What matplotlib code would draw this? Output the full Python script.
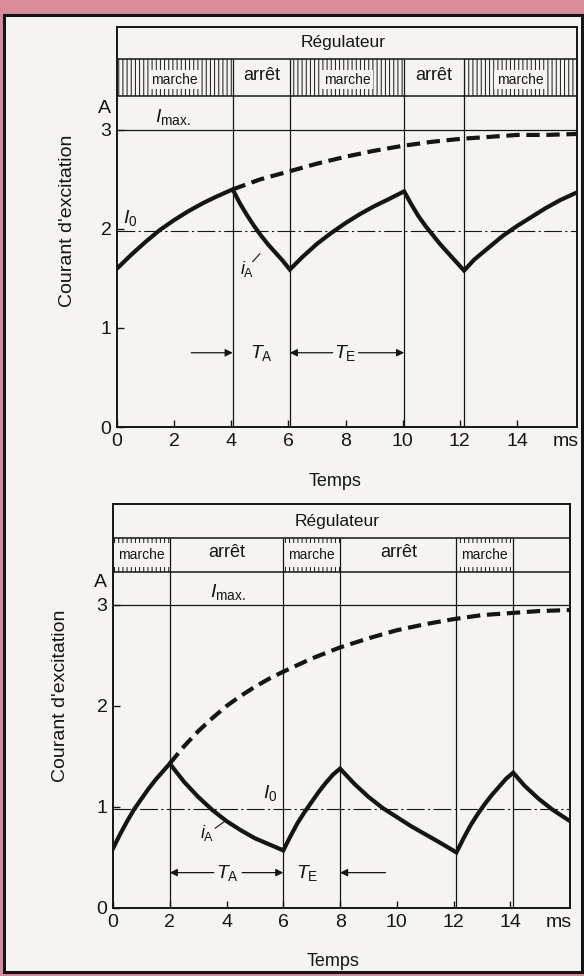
"""Excitation current of a generator under an on/off regulator (two duty cycles)."""

import matplotlib

matplotlib.use("Agg")
import matplotlib.pyplot as plt
from matplotlib.patches import Rectangle

PINK = "#d98a9b"
PAPER = "#f6f4f1"
INK = "#151515"

plt.rcParams.update({
    "font.family": "Liberation Sans",
    "mathtext.fontset": "custom",
    "mathtext.rm": "Liberation Sans",
    "mathtext.it": "Liberation Sans:italic",
    "hatch.linewidth": 0.7,
})

I_MAX = 3.0
X_END = 16.1
X_TICKS = [0, 2, 4, 6, 8, 10, 12, 14]
Y_TICKS = [0, 1, 2, 3]

# --- upper chart: long "marche" phases --------------------------------------
TOP_SWITCH = [4.05, 6.05, 10.05, 12.15]
TOP_STATES = ["marche", "arrêt", "marche", "arrêt", "marche"]
TOP_I0 = 1.98
TOP_T = [0, 0.5, 1, 1.5, 2, 2.5, 3, 3.5, 4.05,
         4.3, 4.55, 4.8, 5.05, 5.3, 5.55, 5.8, 6.05,
         6.5, 7, 7.5, 8, 8.5, 9, 9.5, 10.05,
         10.3, 10.55, 10.8, 11.05, 11.3, 11.55, 11.8, 12.15,
         12.5, 13, 13.5, 14, 14.5, 15, 15.5, 16.1]
TOP_I = [1.60, 1.74, 1.87, 1.99, 2.09, 2.18, 2.26, 2.33, 2.40,
         2.26, 2.14, 2.03, 1.93, 1.84, 1.76, 1.68, 1.59,
         1.72, 1.85, 1.96, 2.06, 2.15, 2.23, 2.30, 2.38,
         2.25, 2.13, 2.03, 1.94, 1.85, 1.77, 1.69, 1.58,
         1.69, 1.81, 1.93, 2.03, 2.12, 2.21, 2.29, 2.37]
TOP_T_FREE = [4.05, 5, 6, 7, 8, 9, 10, 11, 12, 13, 14, 15, 16.1]
TOP_I_FREE = [2.40, 2.50, 2.58, 2.66, 2.73, 2.79, 2.84, 2.88, 2.91, 2.93, 2.95, 2.95, 2.96]

# --- lower chart: short "marche" phases -------------------------------------
BOT_SWITCH = [2.0, 6.0, 8.0, 12.1, 14.1]
BOT_STATES = ["marche", "arrêt", "marche", "arrêt", "marche", ""]
BOT_I0 = 0.98
BOT_T = [0, 0.25, 0.5, 0.75, 1, 1.25, 1.5, 1.75, 2.0,
         2.5, 3, 3.5, 4, 4.5, 5, 5.5, 6.0,
         6.25, 6.5, 6.75, 7, 7.25, 7.5, 7.75, 8.0,
         8.5, 9, 9.5, 10, 10.5, 11, 11.5, 12.1,
         12.35, 12.6, 12.85, 13.1, 13.35, 13.6, 13.85, 14.1,
         14.5, 15, 15.5, 16.1]
BOT_I = [0.59, 0.73, 0.86, 0.98, 1.08, 1.18, 1.27, 1.35, 1.43,
         1.25, 1.10, 0.97, 0.86, 0.77, 0.69, 0.63, 0.57,
         0.71, 0.84, 0.95, 1.05, 1.15, 1.24, 1.32, 1.38,
         1.23, 1.10, 0.99, 0.90, 0.81, 0.73, 0.65, 0.55,
         0.69, 0.82, 0.93, 1.03, 1.12, 1.20, 1.28, 1.34,
         1.21, 1.08, 0.97, 0.86]
BOT_T_FREE = [2, 2.5, 3, 3.5, 4, 4.5, 5, 5.5, 6, 7, 8, 9, 10, 11, 12, 13, 14, 15, 16.1]
BOT_I_FREE = [1.43, 1.60, 1.75, 1.88, 2.00, 2.10, 2.19, 2.27, 2.34, 2.47, 2.58,
              2.67, 2.75, 2.81, 2.86, 2.90, 2.92, 2.94, 2.95]


def arrow(ax, x_from, x_to, y):
    ax.annotate("", xy=(x_to, y), xytext=(x_from, y),
                arrowprops=dict(arrowstyle="-|>", color=INK, lw=0.9,
                                mutation_scale=11, shrinkA=0, shrinkB=0))


def draw_chart(ax, t, i, t_free, i_free, switches, states, i0, rows, full_hatch):
    row_bot, row_top, top = rows
    ax.set_xlim(0, X_END)
    ax.set_ylim(0, top)
    ax.patch.set_visible(False)
    for sp in ax.spines.values():
        sp.set_linewidth(1.4)
        sp.set_color(INK)
    ax.set_xticks(X_TICKS)
    ax.set_yticks(Y_TICKS)
    ax.tick_params(direction="in", length=5, width=1, labelsize=14, pad=4, colors=INK)

    # regulator table on top of the plot area
    ax.axhline(row_top, color=INK, lw=1.1)
    ax.axhline(row_bot, color=INK, lw=1.1)
    ax.text(7.9, (row_top + top) / 2, "Régulateur", fontsize=12.5,
            ha="center", va="center", color=INK)
    edges = [0] + switches + [X_END]
    for a, b, st in zip(edges[:-1], edges[1:], states):
        mid = (a + b) / 2
        ymid = (row_bot + row_top) / 2
        if st == "marche":
            if full_hatch:
                ax.add_patch(Rectangle((a, row_bot), b - a, row_top - row_bot,
                                       fill=False, hatch="||||", ec=INK, lw=0))
                ax.text(mid, ymid - 0.02, st, fontsize=10, ha="center", va="center", color=INK,
                        bbox=dict(boxstyle="square,pad=0.2", fc=PAPER, ec="none"))
            else:
                strip = 0.05
                for y0 in (row_bot, row_top - strip):
                    ax.add_patch(Rectangle((a, y0), b - a, strip,
                                           fill=False, hatch="||||", ec=INK, lw=0))
                ax.text(mid, ymid, st, fontsize=10, ha="center", va="center", color=INK)
        elif st:
            ax.text(mid, ymid + 0.02, st, fontsize=13, ha="center", va="center", color=INK)

    ax.vlines(switches, 0, row_top, color=INK, lw=0.9)
    ax.axhline(I_MAX, color=INK, lw=0.9)
    ax.axhline(i0, color=INK, lw=0.8, ls=(0, (16, 3, 2, 3)))

    ax.plot(t_free, i_free, color=INK, lw=3, ls=(0, (3.2, 1.6)), dash_capstyle="butt")
    ax.plot(t, i, color=INK, lw=3, solid_joinstyle="miter")

    ax.annotate("A", xy=(0, 3.22), xytext=(-4, 0), textcoords="offset points",
                ha="right", va="center", fontsize=14, color=INK)
    ax.annotate("ms", xy=(15.7, 0), xycoords=("data", "axes fraction"),
                xytext=(0, -4), textcoords="offset points",
                ha="center", va="top", fontsize=14, color=INK)


fig = plt.figure(figsize=(5.84, 9.76), dpi=100, facecolor=PINK)
fig.add_artist(Rectangle((0.007, 0.004), 0.99, 0.981, transform=fig.transFigure,
                         fc=PAPER, ec=INK, lw=2.2, zorder=-10))

# upper chart
ax1 = fig.add_axes([0.2003, 0.5625, 0.7877, 0.4098])
draw_chart(ax1, TOP_T, TOP_I, TOP_T_FREE, TOP_I_FREE, TOP_SWITCH, TOP_STATES,
           TOP_I0, (3.34, 3.72, 4.04), full_hatch=True)
ax1.text(1.33, 3.03, r"$I_{\rm max.}$", fontsize=14, ha="left", va="bottom", color=INK)
ax1.text(0.2, 2.01, r"$I_{\rm 0}$", fontsize=14, ha="left", va="bottom", color=INK)
ax1.text(4.3, 1.6, r"$i_{\rm A}$", fontsize=13, ha="left", va="center", color=INK)
ax1.plot([4.75, 5.0], [1.67, 1.75], color=INK, lw=0.8)
arrow(ax1, 2.6, TOP_SWITCH[0], 0.75)
ax1.text(5.05, 0.75, r"$T_{\rm A}$", fontsize=14, ha="center", va="center", color=INK)
arrow(ax1, 7.55, TOP_SWITCH[1], 0.75)
ax1.text(8.0, 0.75, r"$T_{\rm E}$", fontsize=14, ha="center", va="center", color=INK)
arrow(ax1, 8.45, TOP_SWITCH[2], 0.75)

# lower chart
ax2 = fig.add_axes([0.1935, 0.0697, 0.7825, 0.4139])
draw_chart(ax2, BOT_T, BOT_I, BOT_T_FREE, BOT_I_FREE, BOT_SWITCH, BOT_STATES,
           BOT_I0, (3.33, 3.66, 4.0), full_hatch=False)
ax2.text(3.43, 3.03, r"$I_{\rm max.}$", fontsize=14, ha="left", va="bottom", color=INK)
ax2.text(5.3, 1.04, r"$I_{\rm 0}$", fontsize=14, ha="left", va="bottom", color=INK)
ax2.text(3.05, 0.74, r"$i_{\rm A}$", fontsize=13, ha="left", va="center", color=INK)
ax2.plot([3.6, 3.95], [0.79, 0.86], color=INK, lw=0.8)
arrow(ax2, 3.55, BOT_SWITCH[0], 0.35)
ax2.text(4.05, 0.35, r"$T_{\rm A}$", fontsize=14, ha="center", va="center", color=INK)
arrow(ax2, 4.55, BOT_SWITCH[1], 0.35)
ax2.text(6.85, 0.35, r"$T_{\rm E}$", fontsize=14, ha="center", va="center", color=INK)
arrow(ax2, 9.6, BOT_SWITCH[2], 0.35)

for ax, (xl, yl), (xt, yt) in [
    (ax1, (0.115, 1 - 221 / 976), (0.574, 1 - 481 / 976)),
    (ax2, (0.103, 1 - 696 / 976), (0.570, 1 - 962 / 976)),
]:
    fig.text(xl, yl, "Courant d'excitation", rotation=90, fontsize=14,
             ha="center", va="center", color=INK)
    fig.text(xt, yt, "Temps", fontsize=13, ha="center", va="center", color=INK)

fig.savefig("out.png", dpi=100, facecolor=PINK)
